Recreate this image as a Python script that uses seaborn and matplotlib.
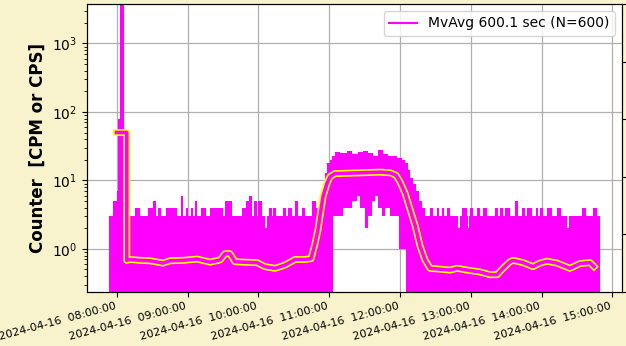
import numpy as np
import pandas as pd
import matplotlib
matplotlib.use('Agg')
import matplotlib.pyplot as plt
import matplotlib.dates as mdates
from matplotlib.lines import Line2D
import seaborn as sns

# all times in minutes after 2024-04-16 08:00:00
# raw counter, per-column maximum (step, value holds until next time)
raw_max_t = [-6.6, -3.2, -0.1, 1.3, 2.3, 5.7, 15.4, 19.7, 26.4, 30.7, 33.2, 34.9, 37.5,
             41.7, 51.0, 54.4, 56.1, 58.6, 60.3, 62.9, 64.6, 66.3, 68.0, 71.4, 75.6,
             79.0, 90.1, 91.8, 97.7, 106.1, 109.5, 112.0, 114.6, 116.3, 118.8, 119.7,
             123.1, 125.7, 127.4, 129.1, 131.7, 132.5, 135.1, 141.0, 143.6, 145.3,
             148.6, 151.2, 153.6, 157.0, 159.6, 165.5, 168.8, 172.4, 174.9, 176.6,
             178.3, 180.8, 182.5, 185.0, 189.2, 195.2, 199.4, 204.5, 208.8, 213.0,
             217.2, 221.5, 225.7, 229.9, 234.1, 237.5, 241.8, 244.3, 246.8, 248.6,
             251.1, 253.6, 256.2, 258.7, 261.2, 265.4, 268.0, 271.4, 273.1, 275.7,
             277.4, 279.9, 282.5, 289.3, 291.0, 292.7, 296.9, 297.8, 298.6, 299.3,
             302.0, 305.4, 307.9, 310.5, 313.9, 320.6, 323.1, 324.8, 327.3, 329.0,
             333.3, 337.5, 340.0, 343.4, 346.0, 347.7, 351.9, 355.3, 357.0, 358.7,
             361.2, 364.6, 368.9, 373.1, 376.5, 381.6, 383.3, 394.3, 397.7, 403.6,
             407.0, 409.5]
raw_max_v = [3, 5, 7, 80, 5000, 3, 4, 3, 4, 5, 3, 4, 3,
             4, 3, 6, 3, 4, 3, 4, 3, 5, 3, 4, 3,
             4, 3, 5, 3, 4, 5, 6, 3, 5, 3, 5,
             3, 2, 3, 4, 3, 4, 3, 4, 3, 4,
             3, 5, 3, 4, 3, 5, 4, 5, 9, 13,
             18, 20, 23, 26, 25, 27, 24, 26, 27, 25,
             23, 28, 24, 23, 23, 21, 20, 18, 14, 11,
             9, 7, 5, 4, 3, 4, 3, 4, 3, 4,
             3, 4, 3, 2, 3, 4, 3, 2, 3, 4,
             3, 4, 3, 4, 3, 4, 3, 4, 3, 4,
             3, 5, 3, 4, 3, 4, 3, 4, 3, 4,
             3, 4, 3, 4, 3, 2, 3, 4, 3, 4,
             3, 3]

# raw counter, per-column minimum (0 everywhere except the high-rate hour)
raw_min_t = [-6.6, 182.9, 183.1, 191.6, 199.4, 203.6, 206.2, 210.4, 213.0, 216.4,
             219.0, 221.5, 224.9, 227.4, 231.7, 239.3, 245.3, 409.5]
raw_min_v = [0, 1, 3, 4, 5, 6, 4, 2, 3, 5,
             6, 4, 3, 4, 3, 1, 0, 0]

# moving average, 600 samples
mvavg_t = [-0.3, 8.4, 8.4, 11.2, 19.7, 28.1, 39.2, 45.1, 56.1, 68.0, 79.0, 87.6, 91.7,
           95.9, 100.1, 106.9, 118.8, 125.6, 134.1, 142.5, 151.0, 159.5, 164.6, 168.0,
           170.5, 172.2, 174.8, 178.2, 180.7, 185.0, 189.2, 206.2, 223.1, 231.6, 236.6,
           240.0, 244.3, 248.5, 252.8, 257.0, 261.2, 265.5, 271.4, 282.5, 288.4, 296.9,
           307.9, 316.3, 322.3, 327.3, 333.3, 335.8, 344.3, 352.8, 358.7, 364.6, 373.1,
           384.1, 392.6, 401.1, 404.5]
mvavg_v = [50, 50, 0.68, 0.70, 0.68, 0.67, 0.62, 0.67, 0.68, 0.71, 0.64, 0.69, 0.85,
           0.85, 0.65, 0.64, 0.63, 0.55, 0.52, 0.58, 0.70, 0.70, 0.72, 1.2,
           1.9, 3.0, 5.8, 9.1, 11.3, 12.6, 12.6, 12.9, 13.2, 12.9, 11.9,
           9.5, 6.5, 3.8, 2.2, 1.1, 0.69, 0.52, 0.51, 0.49, 0.52, 0.49,
           0.46, 0.42, 0.42, 0.52, 0.65, 0.68, 0.63, 0.55, 0.62, 0.66, 0.62,
           0.52, 0.61, 0.63, 0.55]

legend_label = 'MvAvg 600.1 sec (N=600)'
ylabel = 'Counter  [CPM or CPS]'

start = pd.Timestamp('2024-04-16 08:00:00')


def to_num(minutes):
    return mdates.date2num((start + pd.to_timedelta(np.asarray(minutes, float), unit='min')).to_pydatetime())


def step_at(tp, vp, t):
    idx = np.searchsorted(tp, t, side='right') - 1
    return np.asarray(vp, float)[np.clip(idx, 0, None)]


grid_t = np.union1d(raw_max_t, raw_min_t)
upper = step_at(raw_max_t, raw_max_v, grid_t)
lower = step_at(raw_min_t, raw_min_v, grid_t)

df_mv = pd.DataFrame({'t': to_num(mvavg_t), 'v': mvavg_v})

fig = plt.figure(figsize=(6.26, 3.46), dpi=100, facecolor='#F8F3CC')
ax = fig.add_axes([87 / 626, 54.3 / 346, 535 / 626, 287.7 / 346])
ax.set_yscale('log')
ax.grid(True, color='#b0b0b0', lw=0.9)
ax.set_axisbelow(True)

ax.fill_between(to_num(grid_t), lower, upper, step='post', color='magenta', lw=0, zorder=2)
sns.lineplot(data=df_mv, x='t', y='v', ax=ax, sort=False, estimator=None,
             color='yellow', lw=5.0, zorder=3)
sns.lineplot(data=df_mv, x='t', y='v', ax=ax, sort=False, estimator=None,
             color='magenta', lw=2.6, zorder=4)

ax.set_xlim(to_num([-25.3])[0], to_num([428.2])[0])
ax.set_ylim(0.237, 3760)
ax.xaxis.set_major_locator(mdates.HourLocator())
ax.xaxis.set_major_formatter(mdates.DateFormatter('%Y-%m-%d  %H:%M:%S'))
plt.setp(ax.get_xticklabels(), rotation=15, ha='right', fontsize=8)
ax.tick_params(axis='y', labelsize=10)
ax.set_xlabel('')
ax.set_ylabel(ylabel, fontsize=12, fontweight='bold')

ax.legend(handles=[Line2D([], [], color='magenta', lw=1.5)], labels=[legend_label],
          loc='upper right', fontsize=10)

ax2 = ax.twinx()
ax2.set_ylim(0, 1)
ax2.set_yticks([0, 0.2, 0.4, 0.6, 0.8, 1.0])
ax2.tick_params(labelright=False)

fig.savefig('out.png', dpi=100, facecolor=fig.get_facecolor())
